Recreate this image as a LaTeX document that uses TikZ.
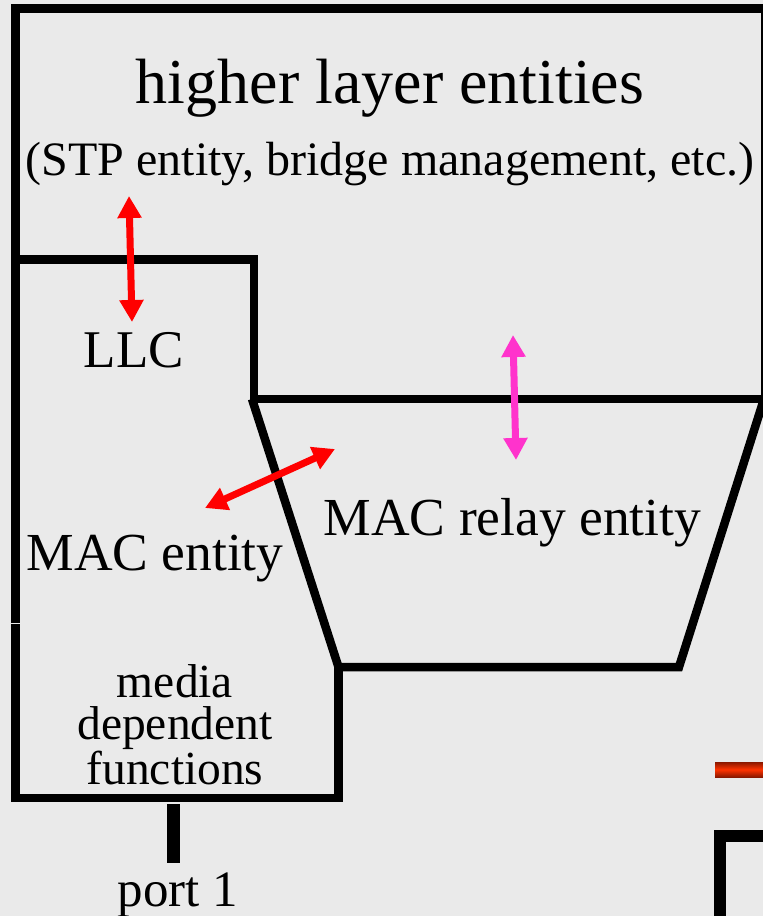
\documentclass[tikz,border=0pt]{standalone}
\usepackage{fontspec}
\setmainfont{Liberation Serif}
\usetikzlibrary{arrows.meta}
\definecolor{bgc}{HTML}{EAEAEA}
\definecolor{relaypink}{HTML}{FF33CC}
\definecolor{barred}{HTML}{FF3300}
\definecolor{bardark}{HTML}{8A1800}
\newcommand{\fsz}[2]{\fontsize{#1}{#2}\selectfont}
\tikzset{
  wall/.style={line width=8.5pt, line join=miter},
  dblarr/.style={line width=7pt, >={Triangle[length=22pt,width=23pt]}, <->},
  lbl/.style={anchor=base, inner sep=0pt}
}
\begin{document}
\begin{tikzpicture}[x=1pt,y=-1pt]
\clip (0,0) rectangle (763,916);
\fill[bgc] (0,0) rectangle (763,916);
% higher layer entities
\draw[wall] (15.5,623) -- (15.5,8.5) -- (765,8.5) -- (765,399);
\draw[wall] (15.5,259.5) -- (254,259.5) -- (254,399) -- (765,399);
% MAC relay entity
\draw[wall] (252,399) -- (338.5,667) -- (679,667) -- (764,399);
% media dependent functions
\draw[wall] (15.5,624) -- (15.5,798) -- (338.5,798) -- (338.5,667);
\coordinate (portT) at (173.5,804);
\coordinate (portB) at (173.5,863);
\draw[line width=13pt] (portT) -- (portB);
% next bridge, cut off
\shade[top color=bardark, bottom color=bardark, middle color=barred]
  (715,762) rectangle (770,777);
\draw[line width=12pt, line join=miter] (770,836) -- (720,836) -- (720,920);

\node[lbl, font=\fsz{64}{70}] (hle) at (390,103) {higher layer entities};
\node[lbl, font=\fsz{48}{52}] (stp) at (390,175) {(STP entity, bridge management, etc.)};
\node[lbl, font=\fsz{53}{58}] (llc) at (134,367) {LLC};
\node[lbl, font=\fsz{53.5}{58}] (relay) at (512.5,535) {MAC relay entity};
\node[lbl, font=\fsz{53.5}{58}] (mac) at (155,570) {MAC entity};
\node[lbl, font=\fsz{47.5}{42}, align=center] (mdf) at (175,784)
  {media\\dependent\\functions};
\node[lbl, font=\fsz{51}{56}] (port) at (178,906) {port 1};

% interactions
\coordinate (llcT) at (129,196);
\coordinate (llcB) at (132,322);
\draw[dblarr, red] (llcT) -- (llcB);
\coordinate (relT) at (513,335);
\coordinate (relB) at (516,460);
\draw[dblarr, relaypink] (relT) -- (relB);
\coordinate (macL) at (205,508);
\coordinate (macR) at (335,449);
\draw[dblarr, red] (macL) -- (macR);
\end{tikzpicture}
\end{document}
